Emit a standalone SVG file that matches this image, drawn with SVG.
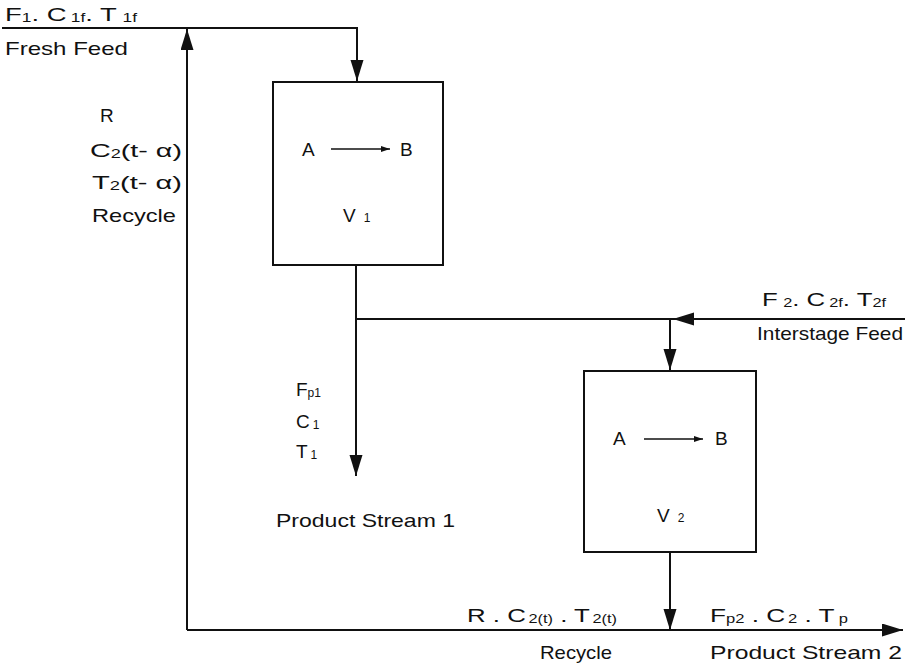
<svg xmlns="http://www.w3.org/2000/svg" width="905" height="666" viewBox="0 0 905 666">
<style>
text{font-family:"Liberation Sans","DejaVu Sans",sans-serif;font-size:19px;fill:#111}
.s{font-size:12px}
.ln{stroke:#111;stroke-width:2;fill:none}
.box{stroke:#111;stroke-width:2;fill:#fff}
.rx{stroke:#111;stroke-width:1.6;fill:none}
</style>
<defs>
<marker id="arr" markerUnits="userSpaceOnUse" markerWidth="22" markerHeight="14" refX="21" refY="6.5" orient="auto">
<path d="M0,0 L21,6.5 L0,13 z" fill="#111"/>
</marker>
<marker id="sm" markerUnits="userSpaceOnUse" markerWidth="10" markerHeight="6" refX="9" refY="3" orient="auto">
<path d="M0,0 L9,3 L0,6 z" fill="#111"/>
</marker>
</defs>
<g id="connectors">
<path class="ln" d="M2,28 H357 V81" marker-end="url(#arr)"/>
<path class="ln" d="M187,630 V29" marker-end="url(#arr)"/>
<path class="ln" d="M356,265 V476" marker-end="url(#arr)"/>
<path class="ln" d="M905,319 H673" marker-end="url(#arr)"/>
<path class="ln" d="M673,319 H356"/>
<path class="ln" d="M670,319 V370" marker-end="url(#arr)"/>
<path class="ln" d="M670,552 V630" marker-end="url(#arr)"/>
<path class="ln" d="M187,630 H903" marker-end="url(#arr)"/>
</g>
<g id="reactor1">
<rect class="box" x="273" y="82" width="170" height="183"/>
<text x="302" y="156">A</text>
<path class="rx" d="M331,149 H390" marker-end="url(#sm)"/>
<text x="400" y="156">B</text>
<text x="343" y="222">V<tspan class="s" dx="8">1</tspan></text>
</g>
<g id="reactor2">
<rect class="box" x="584" y="371" width="172" height="181"/>
<text x="613" y="445">A</text>
<path class="rx" d="M644,439 H703" marker-end="url(#sm)"/>
<text x="715" y="445">B</text>
<text x="657" y="522">V<tspan class="s" dx="8">2</tspan></text>
</g>
<g id="fresh-feed-label">
<text x="5" y="21" textLength="132" lengthAdjust="spacingAndGlyphs">F<tspan class="s" dy="1">1</tspan><tspan dy="-1">.  C</tspan><tspan class="s" dx="3" dy="1">1f</tspan><tspan dy="-1">. T</tspan><tspan class="s" dx="4" dy="1">1f</tspan></text>
<text x="5" y="55" textLength="123" lengthAdjust="spacingAndGlyphs">Fresh Feed</text>
</g>
<g id="recycle-label">
<text x="100" y="122">R</text>
<text x="90" y="157" textLength="92" lengthAdjust="spacingAndGlyphs">C<tspan class="s" dy="1">2</tspan><tspan dy="-1">(t- α)</tspan></text>
<text x="92" y="189" textLength="90" lengthAdjust="spacingAndGlyphs">T<tspan class="s" dy="1">2</tspan><tspan dy="-1">(t- α)</tspan></text>
<text x="92" y="222" textLength="84" lengthAdjust="spacingAndGlyphs">Recycle</text>
</g>
<g id="interstage-label">
<text x="762" y="306" textLength="124" lengthAdjust="spacingAndGlyphs">F<tspan class="s" dx="4" dy="1">2</tspan><tspan dy="-1">.  C</tspan><tspan class="s" dx="3" dy="1">2f</tspan><tspan dy="-1">. T</tspan><tspan class="s" dy="1">2f</tspan></text>
<text x="757" y="340" textLength="146" lengthAdjust="spacingAndGlyphs">Interstage Feed</text>
</g>
<g id="product1-label">
<text x="296" y="396">F<tspan class="s" dy="1">p1</tspan></text>
<text x="296" y="428">C<tspan class="s" dx="3" dy="1">1</tspan></text>
<text x="296" y="458">T<tspan class="s" dx="3" dy="1">1</tspan></text>
<text x="276" y="527" textLength="179" lengthAdjust="spacingAndGlyphs">Product Stream 1</text>
</g>
<g id="bottom-labels">
<text x="467" y="622" textLength="150" lengthAdjust="spacingAndGlyphs">R .  C<tspan class="s" dx="2" dy="1">2(t)</tspan><tspan dy="-1"> .  T</tspan><tspan class="s" dx="2" dy="1">2(t)</tspan></text>
<text x="540" y="659" textLength="72" lengthAdjust="spacingAndGlyphs">Recycle</text>
<text x="710" y="622" textLength="138" lengthAdjust="spacingAndGlyphs">F<tspan class="s" dy="1">p2</tspan><tspan dy="-1"> . C</tspan><tspan class="s" dx="2" dy="1">2</tspan><tspan dy="-1"> . T</tspan><tspan class="s" dx="3" dy="1">p</tspan></text>
<text x="710" y="659" textLength="192" lengthAdjust="spacingAndGlyphs">Product Stream 2</text>
</g>
</svg>
